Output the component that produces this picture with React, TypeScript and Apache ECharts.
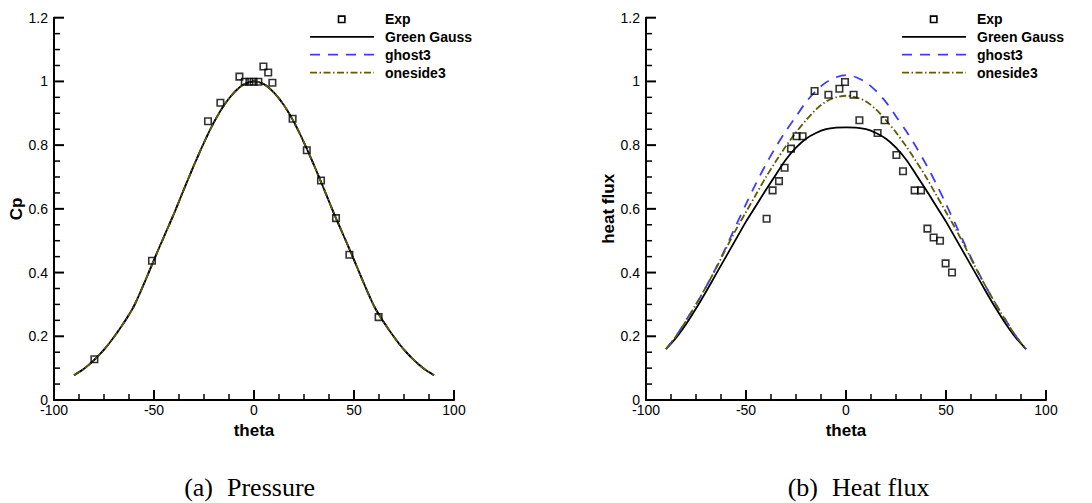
import React, { useEffect, useRef } from "react";
import * as echarts from "echarts";

// ---------- data ----------
const thetaGrid = [
  -90, -85, -80, -75, -70, -65, -60, -55, -50, -45, -40, -35, -30, -25, -20, -15, -10, -5, 0,
  5, 10, 15, 20, 25, 30, 35, 40, 45, 50, 55, 60, 65, 70, 75, 80, 85, 90,
];

// (a) Pressure: the three computed curves coincide
const cpGreenGauss = [
  0.078, 0.098, 0.125, 0.158, 0.198, 0.243, 0.295, 0.365, 0.44, 0.513, 0.585, 0.662, 0.737, 0.808, 0.872, 0.925, 0.965, 0.991, 1.0,
  0.991, 0.965, 0.925, 0.872, 0.808, 0.737, 0.662, 0.585, 0.513, 0.44, 0.365, 0.295, 0.243, 0.198, 0.158, 0.125, 0.098, 0.078,
];
const cpGhost3 = cpGreenGauss;
const cpOneside3 = cpGreenGauss;

const cpExpTheta = [-79.8, -51, -23, -16.8, -7.3, -4.6, -2.3, -0.2, 2.2, 4.7, 7.1, 9.2, 19.3, 26.4, 33.5, 41, 47.7, 62.3];
const cpExpValue = [0.128, 0.437, 0.875, 0.933, 1.015, 0.999, 0.999, 0.999, 0.999, 1.047, 1.028, 0.996, 0.883, 0.784, 0.689, 0.571, 0.456, 0.26];

// (b) Heat flux
const hfGreenGauss = [
  0.16, 0.195, 0.238, 0.287, 0.34, 0.395, 0.45, 0.505, 0.56, 0.61, 0.66, 0.708, 0.755, 0.792, 0.82, 0.838, 0.85, 0.855, 0.856,
  0.855, 0.85, 0.838, 0.82, 0.792, 0.755, 0.708, 0.66, 0.61, 0.56, 0.505, 0.45, 0.395, 0.34, 0.287, 0.238, 0.195, 0.16,
];
const hfGhost3 = [
  0.16, 0.2, 0.25, 0.3, 0.355, 0.415, 0.48, 0.548, 0.615, 0.68, 0.74, 0.795, 0.845, 0.89, 0.935, 0.97, 0.997, 1.013, 1.02,
  1.013, 0.997, 0.97, 0.935, 0.89, 0.845, 0.795, 0.74, 0.68, 0.615, 0.548, 0.48, 0.415, 0.355, 0.3, 0.25, 0.2, 0.16,
];
const hfOneside3 = [
  0.16, 0.2, 0.248, 0.3, 0.355, 0.413, 0.475, 0.535, 0.59, 0.645, 0.7, 0.75, 0.797, 0.84, 0.878, 0.912, 0.937, 0.95, 0.955,
  0.95, 0.937, 0.912, 0.878, 0.84, 0.797, 0.75, 0.7, 0.645, 0.59, 0.535, 0.475, 0.413, 0.355, 0.3, 0.248, 0.2, 0.16,
];

const hfExpTheta = [-39.7, -36.7, -33.5, -30.7, -27.5, -24.7, -21.7, -15.7, -8.8, -3.3, -0.5, 3.8, 6.7, 15.8, 19.3, 25.2, 28.5, 34.3, 37.5, 40.7, 43.8, 47, 49.8, 53];
const hfExpValue = [0.569, 0.658, 0.687, 0.729, 0.789, 0.828, 0.828, 0.97, 0.958, 0.977, 0.998, 0.958, 0.878, 0.838, 0.878, 0.769, 0.718, 0.658, 0.658, 0.538, 0.51, 0.5, 0.429, 0.4];

// axis ticks
const xMajorTicks = [-100, -50, 0, 50, 100];
const xMinorTicks = [-87.5, -75, -62.5, -37.5, -25, -12.5, 12.5, 25, 37.5, 62.5, 75, 87.5];
const yMajorTicks = [0, 0.2, 0.4, 0.6, 0.8, 1.0, 1.2];
const yMinorTicks = [0.05, 0.1, 0.15, 0.25, 0.3, 0.35, 0.45, 0.5, 0.55, 0.65, 0.7, 0.75, 0.85, 0.9, 0.95, 1.05, 1.1, 1.15];

const legendNames = ["Exp", "Green Gauss", "ghost3", "oneside3"];
const yAxisNames = ["Cp", "heat flux"];
const captions = [
  ["(a)", "Pressure"],
  ["(b)", "Heat flux"],
];

// ---------- styles ----------
const FONT = "'Liberation Sans', Arial, Helvetica, sans-serif";
const SERIF = "'Liberation Serif', 'Times New Roman', serif";
const BLUE = "#3c3cff";
const OLIVE = "#5f5c05";
const BLUE_DASH = [10, 8];
const OLIVE_DASH = [7, 2.5, 1.5, 2.5];
const MAJOR_LEN = 10;
const MINOR_LEN = 6;

const GRID_TOP = 17.7;
const GRID_H = 382.3;
const GRID_W = 400;
const GRID_LEFTS = [54, 646];

function pair(xs: number[], ys: number[]) {
  return xs.map((x, i) => [x, ys[i]]);
}

function lineSeries(name: string, ys: number[], idx: number, color: string, type: any, z: number) {
  return {
    type: "line",
    name,
    xAxisIndex: idx,
    yAxisIndex: idx,
    data: pair(thetaGrid, ys),
    symbol: "none",
    smooth: 0.3,
    silent: true,
    z,
    lineStyle: { color, width: 1.8, type },
  };
}

function expSeries(xs: number[], ys: number[], idx: number) {
  return {
    type: "scatter",
    name: "Exp",
    xAxisIndex: idx,
    yAxisIndex: idx,
    data: pair(xs, ys),
    symbol: "rect",
    symbolSize: 6.5,
    silent: true,
    z: 10,
    itemStyle: { color: "rgba(255,255,255,0)", borderColor: "#000", borderWidth: 1.6 },
  };
}

// tick marks placed through the grid's own coordinate conversion
function tickGraphic(chart: any, gridIndex: number) {
  const els: any[] = [];
  const add = (x1: number, y1: number, x2: number, y2: number, major: boolean) =>
    els.push({
      type: "line",
      silent: true,
      z: 50,
      shape: { x1, y1, x2, y2 },
      style: { stroke: "#000", lineWidth: major ? 2 : 1.5 },
    });
  xMajorTicks.forEach((v) => {
    const p = chart.convertToPixel({ gridIndex }, [v, 0]);
    add(p[0], p[1], p[0], p[1] - MAJOR_LEN, true);
  });
  xMinorTicks.forEach((v) => {
    const p = chart.convertToPixel({ gridIndex }, [v, 0]);
    add(p[0], p[1], p[0], p[1] - MINOR_LEN, false);
  });
  yMajorTicks.forEach((v) => {
    const p = chart.convertToPixel({ gridIndex }, [-100, v]);
    add(p[0], p[1], p[0] + MAJOR_LEN, p[1], true);
  });
  yMinorTicks.forEach((v) => {
    const p = chart.convertToPixel({ gridIndex }, [-100, v]);
    add(p[0], p[1], p[0] + MINOR_LEN, p[1], false);
  });
  return els;
}

function legendGraphic(gridLeft: number) {
  const x0 = gridLeft + 256;
  const rows = [19.3, 36.9, 54.6, 72.6];
  const textX = x0 + 75;
  const els: any[] = [];
  els.push({
    type: "rect",
    shape: { x: x0 + 28.5, y: rows[0] - 3.2, width: 6.4, height: 6.4 },
    style: { fill: "none", stroke: "#000", lineWidth: 1.6 },
  });
  els.push({ type: "line", shape: { x1: x0, y1: rows[1], x2: x0 + 64, y2: rows[1] }, style: { stroke: "#000", lineWidth: 1.8 } });
  els.push({ type: "line", shape: { x1: x0, y1: rows[2], x2: x0 + 64, y2: rows[2] }, style: { stroke: BLUE, lineWidth: 1.8, lineDash: BLUE_DASH } });
  els.push({ type: "line", shape: { x1: x0, y1: rows[3], x2: x0 + 64, y2: rows[3] }, style: { stroke: OLIVE, lineWidth: 1.8, lineDash: OLIVE_DASH } });
  legendNames.forEach((n, i) => {
    els.push({
      type: "text",
      x: textX,
      y: rows[i],
      style: { text: n, font: `bold 14px ${FONT}`, fill: "#000", textAlign: "left", textVerticalAlign: "middle", verticalAlign: "middle" },
    });
  });
  return els;
}

function captionGraphic(splitLeft: number, splitRight: number, parts: string[]) {
  const mk = (x: number, text: string, align: string) => ({
    type: "text",
    x,
    y: 487,
    style: { text, font: `26px ${SERIF}`, fill: "#000", textAlign: align, textVerticalAlign: "middle", verticalAlign: "middle" },
  });
  return [mk(splitLeft, parts[0], "right"), mk(splitRight, parts[1], "left")];
}

export default function App() {
  const ref = useRef<HTMLDivElement>(null);

  useEffect(() => {
    document.body.style.margin = "0";
    if (!ref.current) return;
    const chart = echarts.init(ref.current, undefined, { renderer: "svg" });

    const axisText = { fontFamily: FONT, fontSize: 14, color: "#000" };
    const nameText = { fontFamily: FONT, fontWeight: "bold", fontSize: 17, color: "#000" };

    const option: any = {
      animation: false,
      backgroundColor: "#ffffff",
      grid: GRID_LEFTS.map((l) => ({ left: l, top: GRID_TOP, width: GRID_W, height: GRID_H, containLabel: false })),
      xAxis: [0, 1].map((i) => ({
        type: "value",
        gridIndex: i,
        min: -100,
        max: 100,
        interval: 50,
        name: "theta",
        nameLocation: "middle",
        nameGap: 19,
        nameTextStyle: nameText,
        axisLine: { show: true, onZero: false, lineStyle: { color: "#000", width: 2 } },
        axisTick: { show: false },
        minorTick: { show: false },
        axisLabel: { ...axisText, margin: 3 },
        splitLine: { show: false },
        minorSplitLine: { show: false },
      })),
      yAxis: [0, 1].map((i) => ({
        type: "value",
        gridIndex: i,
        min: 0,
        max: 1.2,
        interval: 0.2,
        name: yAxisNames[i],
        nameLocation: "middle",
        nameGap: 29,
        nameTextStyle: nameText,
        axisLine: { show: true, onZero: false, lineStyle: { color: "#000", width: 2 } },
        axisTick: { show: false },
        minorTick: { show: false },
        axisLabel: { ...axisText, margin: 6 },
        splitLine: { show: false },
        minorSplitLine: { show: false },
      })),
      series: [
        lineSeries("ghost3", cpGhost3, 0, BLUE, BLUE_DASH, 2),
        lineSeries("Green Gauss", cpGreenGauss, 0, "#000", "solid", 3),
        lineSeries("oneside3", cpOneside3, 0, OLIVE, OLIVE_DASH, 4),
        expSeries(cpExpTheta, cpExpValue, 0),
        lineSeries("Green Gauss", hfGreenGauss, 1, "#000", "solid", 2),
        lineSeries("ghost3", hfGhost3, 1, BLUE, BLUE_DASH, 3),
        lineSeries("oneside3", hfOneside3, 1, OLIVE, OLIVE_DASH, 4),
        expSeries(hfExpTheta, hfExpValue, 1),
      ],
    };

    chart.setOption(option);
    chart.setOption({
      graphic: [
        ...tickGraphic(chart, 0),
        ...tickGraphic(chart, 1),
        ...legendGraphic(GRID_LEFTS[0]),
        ...legendGraphic(GRID_LEFTS[1]),
        ...captionGraphic(213, 227, captions[0]),
        ...captionGraphic(818, 832, captions[1]),
      ],
    });
    return () => chart.dispose();
  }, []);

  return <div ref={ref} style={{ width: 1092, height: 503 }} />;
}
